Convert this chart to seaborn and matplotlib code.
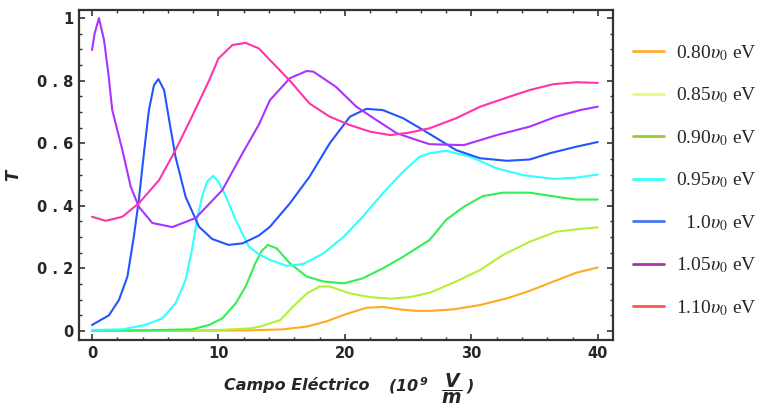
import numpy as np
import pandas as pd
import matplotlib
matplotlib.use("Agg")
import matplotlib.pyplot as plt
from matplotlib.lines import Line2D
from matplotlib.font_manager import FontProperties
from matplotlib.ticker import MultipleLocator, FixedLocator
import seaborn as sns

# curvas (x en 10^9 V/m, y = T)
x080 = [0, 5, 10, 12.5, 15.1, 17, 18.5, 20.1, 21.7, 23, 24.3, 25.7, 26.7, 28.6, 30.7, 32.8, 34.6, 36.5, 38.3, 40]
y080 = [0, 0, 0.001, 0.002, 0.005, 0.014, 0.03, 0.054, 0.074, 0.077, 0.069, 0.064, 0.064, 0.069, 0.083, 0.104, 0.128, 0.158, 0.186, 0.203]

x085 = [0, 5, 10, 12.5, 13.3, 14.9, 15.9, 17.0, 18.0, 18.8, 20.4, 22.0, 23.6, 25.1, 26.7, 28.8, 30.7, 32.5, 34.6, 36.7, 38.6, 40]
y085 = [0, 0.001, 0.003, 0.008, 0.014, 0.035, 0.078, 0.12, 0.142, 0.142, 0.12, 0.108, 0.103, 0.108, 0.122, 0.158, 0.195, 0.243, 0.285, 0.317, 0.326, 0.331]

x090 = [0, 4, 7.9, 9.25, 10.3, 11.36, 12.15, 12.9, 13.4, 13.9, 14.6, 15.65, 16.97, 18.3, 19.9, 21.4, 23.0, 24.6, 26.7, 28.0, 29.4, 30.9, 32.5, 34.6, 36.7, 38.3, 40]
y090 = [0.001, 0.002, 0.005, 0.019, 0.04, 0.088, 0.142, 0.215, 0.255, 0.275, 0.264, 0.216, 0.174, 0.158, 0.152, 0.168, 0.20, 0.237, 0.291, 0.355, 0.397, 0.431, 0.442, 0.442, 0.429, 0.42, 0.42]

x095 = [0, 2.4, 4.2, 5.56, 6.6, 7.4, 7.9, 8.3, 8.7, 9.1, 9.57, 10.0, 10.6, 11.36, 12.4, 13.2, 14.07, 15.4, 16.7, 18.3, 19.9, 21.4, 23.0, 24.6, 25.9, 26.7, 28.0, 29.9, 32, 34.1, 36.5, 38.3, 40]
y095 = [0.003, 0.005, 0.019, 0.04, 0.088, 0.163, 0.259, 0.355, 0.429, 0.477, 0.496, 0.477, 0.429, 0.355, 0.27, 0.245, 0.227, 0.208, 0.214, 0.248, 0.301, 0.365, 0.44, 0.509, 0.557, 0.568, 0.576, 0.557, 0.52, 0.498, 0.486, 0.49, 0.50]

x100 = [0, 1.34, 2.13, 2.8, 3.3, 3.7, 4.1, 4.5, 4.9, 5.25, 5.7, 6.1, 6.6, 7.4, 8.46, 9.5, 10.8, 11.9, 13.2, 14.07, 15.65, 17.2, 18.8, 20.4, 21.7, 23.0, 24.6, 26.2, 28.8, 30.7, 32.8, 34.6, 36.2, 38.3, 40]
y100 = [0.019, 0.05, 0.099, 0.174, 0.30, 0.418, 0.567, 0.706, 0.786, 0.805, 0.77, 0.674, 0.557, 0.429, 0.333, 0.294, 0.275, 0.28, 0.305, 0.333, 0.408, 0.493, 0.60, 0.685, 0.71, 0.706, 0.68, 0.642, 0.578, 0.552, 0.544, 0.548, 0.568, 0.589, 0.604]

x105 = [0, 0.2, 0.55, 0.95, 1.3, 1.6, 2.4, 3.06, 3.7, 4.77, 6.35, 8.2, 10.3, 11.9, 13.2, 14.07, 15.65, 16.97, 17.5, 19.3, 20.9, 22.5, 24.1, 25.7, 26.7, 29.4, 32, 34.6, 36.7, 38.6, 40]
y105 = [0.898, 0.95, 1.0, 0.93, 0.82, 0.706, 0.578, 0.461, 0.397, 0.345, 0.332, 0.361, 0.45, 0.568, 0.66, 0.738, 0.808, 0.831, 0.829, 0.78, 0.717, 0.674, 0.632, 0.61, 0.597, 0.594, 0.626, 0.653, 0.685, 0.706, 0.717]

x110 = [0, 1.08, 2.4, 3.7, 5.3, 6.6, 7.9, 9.25, 10.0, 11.1, 12.15, 13.2, 14.07, 15.65, 17.2, 18.8, 20.4, 22.0, 23.6, 25.1, 26.7, 28.8, 30.7, 32.8, 34.6, 36.5, 38.3, 40]
y110 = [0.365, 0.352, 0.365, 0.408, 0.482, 0.578, 0.685, 0.80, 0.871, 0.914, 0.921, 0.903, 0.866, 0.80, 0.727, 0.685, 0.658, 0.637, 0.626, 0.634, 0.648, 0.68, 0.717, 0.746, 0.77, 0.789, 0.795, 0.793]

etiquetas = ["0.80", "0.85", "0.90", "0.95", "  1.0", "1.05", "1.10"]
colores_curva = ["#ffaa22", "#b5f035", "#33ee55", "#33ffff", "#2255ff", "#aa33ff", "#ff33aa"]
colores_leyenda = ["#ffaa33", "#ddff77", "#99cc33", "#33ffff", "#4477ee", "#aa33aa", "#ff5555"]

xs = [x080, x085, x090, x095, x100, x105, x110]
ys = [y080, y085, y090, y095, y100, y105, y110]

sns.set_style("ticks")
plt.rcParams['font.family'] = ['DejaVu Sans']
plt.rcParams['mathtext.fontset'] = 'custom'
plt.rcParams['mathtext.it'] = 'DejaVu Sans:italic:bold'
plt.rcParams['mathtext.rm'] = 'DejaVu Sans:bold:italic'

fig = plt.figure(figsize=(7.72, 4.13), dpi=100)
ax = fig.add_axes([79/772, 1-340/413, (613-79)/772, (340-10)/413])

for x, y, c in zip(xs, ys, colores_curva):
    sns.lineplot(x=x, y=y, color=c, linewidth=1.5, ax=ax, legend=False, sort=False)

ax.set_xlim(-1.03, 41.2)
ax.set_ylim(-0.029, 1.026)

ax.xaxis.set_major_locator(FixedLocator([0, 10, 20, 30, 40]))
ax.xaxis.set_minor_locator(MultipleLocator(2))
ax.yaxis.set_major_locator(FixedLocator([0, 0.2, 0.4, 0.6, 0.8, 1.0]))
ax.yaxis.set_minor_locator(MultipleLocator(0.05))
ax.set_xticklabels(["0", "10", "20", "30", "40"], fontweight="bold", fontsize=10.5)
ax.set_yticklabels(["0", "0 . 2", "0 . 4", "0 . 6", "0 . 8", "1"], fontweight="bold", fontsize=10.5)

ax.tick_params(which="both", direction="in", top=True, right=True, color="#333333")
ax.tick_params(which="major", length=4, width=1.2, pad=4)
ax.tick_params(which="minor", length=2.5, width=1.0)
for s in ax.spines.values():
    s.set_color("#333333")
    s.set_linewidth(1.6)

# etiqueta del eje x en partes (la fraccion es mas grande)
def px(xp, yp):
    return xp / 772, 1 - yp / 413

ax.set_xlabel("")
fig.text(*px(297, 385), "Campo Eléctrico", fontstyle="italic", fontweight="bold",
         fontsize=11.5, ha="center", va="center")
fig.text(*px(388, 386), r"$(10^{\,9}$", fontsize=11.5, ha="left", va="center")
fig.text(*px(452, 389), r"$\dfrac{V}{m}$", fontsize=13.5, ha="center", va="center")
fig.text(*px(466, 386), r"$)$", fontsize=11.5, ha="left", va="center")

ax.set_ylabel("T", fontstyle="italic", fontweight="bold", fontsize=12, rotation=90)
ax.yaxis.set_label_coords(-0.107, 0.5)

handles = [Line2D([0], [0], color=c, linewidth=2) for c in colores_leyenda]
labels = [e + r"$\upsilon_0$ eV" for e in etiquetas]
fp = FontProperties(family="Liberation Serif", size=14, math_fontfamily="stix")
fig.legend(handles, labels, loc="upper left", bbox_to_anchor=(0.797, 0.938),
           frameon=False, prop=fp, handlelength=1.6, handletextpad=0.6, labelspacing=1.17)

fig.savefig("out.png", dpi=100)
